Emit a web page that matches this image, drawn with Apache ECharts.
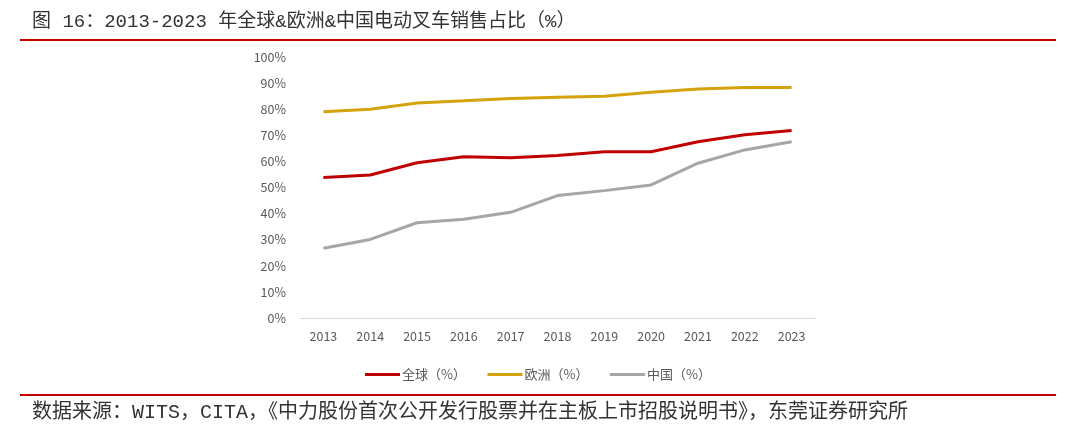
<!DOCTYPE html>
<html>
<head>
<meta charset="utf-8">
<script src="https://cdn.jsdelivr.net/npm/echarts@6/dist/echarts.min.js"></script>
<style>html,body{margin:0;padding:0;background:#fff;}#c{width:1080px;height:434px;}</style>
</head>
<body>
<div id="c"></div>
<script>
var years = ['2013','2014','2015','2016','2017','2018','2019','2020','2021','2022','2023'];
var globalShare = [53.8, 54.8, 59.5, 61.8, 61.4, 62.3, 63.7, 63.7, 67.5, 70.2, 71.8];
var europeShare = [79.0, 80.0, 82.4, 83.2, 84.1, 84.6, 85.0, 86.5, 87.7, 88.3, 88.3];
var chinaShare = [26.7, 30.1, 36.5, 37.8, 40.5, 46.9, 48.8, 51.0, 59.3, 64.4, 67.5];
var seriesNames = ['全球（%）', '欧洲（%）', '中国（%）'];
var titleText = '图 16：2013-2023 年全球&欧洲&中国电动叉车销售占比（%）';
var sourceText = '数据来源：WITS，CITA，《中力股份首次公开发行股票并在主板上市招股说明书》，东莞证券研究所';

var chart = echarts.init(document.getElementById('c'));
var colors = ['#C00000', '#D4A20C', '#A6A6A6'];
var font = '"Noto Sans CJK SC", "Microsoft YaHei", sans-serif';
var docFont = '"Liberation Mono", "Noto Sans CJK SC", monospace';
chart.setOption({
  animation: false,
  backgroundColor: '#fff',
  color: colors,
  grid: {left: 300, right: 265, top: 57, bottom: 116, containLabel: false},
  legend: {
    left: 360, top: 363,
    icon: 'rect', itemWidth: 35, itemHeight: 3, itemGap: 21.5,
    textStyle: {fontFamily: font, fontSize: 13, color: '#595959', padding: [0,0,0,-3]},
    data: seriesNames
  },
  xAxis: {
    type: 'category', data: years, boundaryGap: true,
    axisLine: {lineStyle: {color: '#D9D9D9', width: 1}},
    axisTick: {show: false},
    axisLabel: {color: '#595959', fontSize: 12.5, fontFamily: font, margin: 12}
  },
  yAxis: {
    type: 'value', min: 0, max: 100, interval: 10,
    axisLine: {show: false}, axisTick: {show: false},
    splitLine: {show: false},
    axisLabel: {formatter: '{value}%', color: '#595959', fontSize: 12.5, fontFamily: font, margin: 14}
  },
  series: [
    {name: seriesNames[0], type: 'line', data: globalShare, symbol: 'none', lineStyle: {width: 3}},
    {name: seriesNames[1], type: 'line', data: europeShare, symbol: 'none', lineStyle: {width: 3}},
    {name: seriesNames[2], type: 'line', data: chinaShare, symbol: 'none', lineStyle: {width: 3}}
  ],
  graphic: [
    {type: 'text', left: 32, top: 12, style: {text: titleText, font: '19px ' + docFont, fill: '#333'}},
    {type: 'rect', shape: {x: 20, y: 39, width: 1036, height: 2}, style: {fill: '#C00000'}},
    {type: 'rect', shape: {x: 20, y: 394, width: 1036, height: 2}, style: {fill: '#C00000'}},
    {type: 'text', left: 32, top: 403, style: {text: sourceText, font: '20px ' + docFont, fill: '#333'}}
  ]
});
</script>
</body>
</html>
